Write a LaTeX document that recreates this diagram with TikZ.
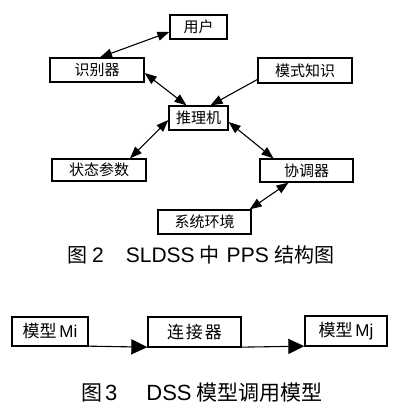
\documentclass[tikz,border=0pt]{standalone}
\usepackage{fontspec}
\setmainfont{Liberation Sans}
\newfontfamily\cjk{Noto Sans CJK SC}
\usetikzlibrary{arrows.meta}
\tikzset{
  box/.style={draw=black,line width=1.3pt,inner sep=0pt,font=\cjk\fontsize{15}{15}\selectfont},
  boxb/.style={draw=black,line width=1.3pt,inner sep=0pt,font=\fontsize{17}{17}\selectfont},
  link/.style={line width=1.1pt,{Triangle[length=12pt,width=9pt]}-{Triangle[length=12pt,width=9pt]}},
  linkone/.style={line width=1.1pt,-{Triangle[length=12pt,width=9pt]}},
  flowarrow/.style={line width=1.1pt,-{Triangle[length=16pt,width=15pt]}},
  captext/.style={inner sep=0pt,anchor=west}
}
\begin{document}
\begin{tikzpicture}[x=1pt,y=-1pt]
\useasboundingbox (0,0) rectangle (400,418);
% figure 2
\node[box,minimum width=57pt,minimum height=24pt] (yh) at (198.5,27) {用户};
\node[box,minimum width=94pt,minimum height=24pt] (sb) at (97,70) {识别器};
\node[box,minimum width=94pt,minimum height=25pt] (ms) at (305,70.5) {模式知识};
\node[box,minimum width=59pt,minimum height=24pt] (tl) at (198.5,118) {推理机};
\node[box,minimum width=94pt,minimum height=22pt] (zt) at (99,170) {状态参数};
\node[box,minimum width=93pt,minimum height=23pt] (xt) at (306.5,170.5) {协调器};
\node[box,minimum width=93pt,minimum height=24pt] (hj) at (204.5,222) {系统环境};
\draw[link] ([yshift=-5pt]yh.west) -- ([xshift=3pt]sb.north);
\draw[link] ([yshift=-3pt]sb.east) -- ([xshift=-12pt]tl.north);
\draw[linkone] ([yshift=-9pt]ms.west) -- ([xshift=12pt]tl.north);
\draw[link] ([yshift=-2pt]tl.west) -- ([xshift=31pt]zt.north);
\draw[link] ([yshift=-4pt]tl.east) -- ([xshift=-33pt]xt.north);
\draw[link] ([xshift=-18pt]xt.south) -- ([xshift=-2pt]hj.north east);
\node[captext,font=\fontsize{21}{21}\selectfont] (c2) at (67,255) {{\cjk\fontsize{20}{20}\selectfont 图}\hspace{5pt}2\hspace{22pt}SLDSS\hspace{5pt}{\cjk\fontsize{20}{20}\selectfont 中}\hspace{7pt}PPS\hspace{6pt}{\cjk\fontsize{20}{20}\selectfont 结构图}};
% figure 3
\node[boxb,minimum width=76pt,minimum height=29pt] (mi) at (50,331.5) {{\cjk 模型}\,Mi};
\node[boxb,minimum width=93pt,minimum height=30pt] (lj) at (194.5,332) {\cjk 连\hspace{2pt}接\hspace{2pt}器};
\node[boxb,minimum width=82pt,minimum height=30pt] (mj) at (346,331) {{\cjk 模型}\,Mj};
\draw[flowarrow] ([yshift=0.5pt]mi.south east) -- ([yshift=0.5pt]lj.south west);
\draw[flowarrow] ([yshift=0.5pt]lj.south east) -- ([yshift=0.5pt]mj.south west);
\node[captext,font=\fontsize{22}{22}\selectfont] (c3) at (81,393) {{\cjk\fontsize{21}{21}\selectfont 图}\hspace{3pt}3\hspace{29pt}DSS\hspace{5pt}{\cjk\fontsize{21}{21}\selectfont 模型调用模型}};
\end{tikzpicture}
\end{document}
